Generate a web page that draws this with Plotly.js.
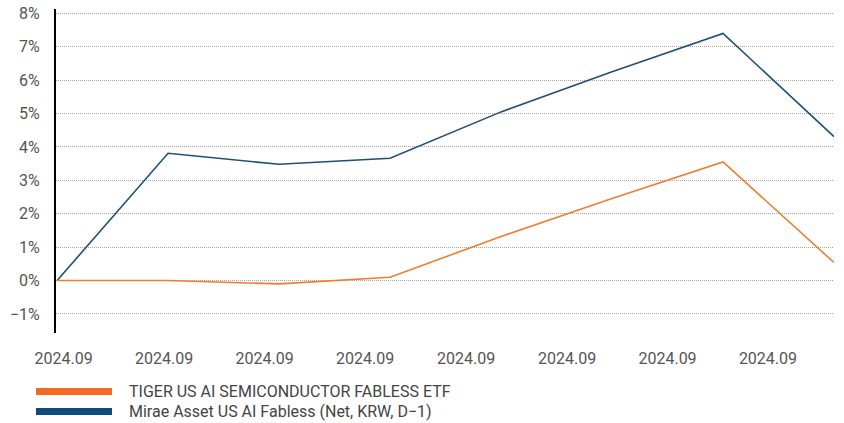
<!DOCTYPE html>
<html>
<head>
<meta charset="utf-8">
<script src="https://cdn.plot.ly/plotly-3.0.1.min.js"></script>
<style>html,body{margin:0;padding:0;background:#fff;}#chart{width:844px;height:423px;}</style>
</head>
<body>
<div id="chart"></div>
<script>
// Data (percent returns)
const pointIndex = [0, 1, 2, 3, 4, 5, 6, 7];
const tigerEtf = [0.0, 0.0, -0.1, 0.1, 1.32, 2.46, 3.55, 0.54];
const miraeIndex = [0.0, 3.81, 3.48, 3.66, 5.05, 6.25, 7.40, 4.31];
const xTickPositions = [0.059, 0.964, 1.869, 2.775, 3.685, 4.595, 5.5, 6.405];
const xTickLabels = ["2024.09", "2024.09", "2024.09", "2024.09", "2024.09", "2024.09", "2024.09", "2024.09"];
const yTickValues = [-1, 0, 1, 2, 3, 4, 5, 6, 7, 8];
const yTickLabels = ["\u22121%", "0%", "1%", "2%", "3%", "4%", "5%", "6%", "7%", "8%"];
const seriesNames = ["TIGER US AI SEMICONDUCTOR FABLESS ETF", "Mirae Asset US AI Fabless (Net, KRW, D\u22121)"];

const orange = "#EE7D31";
const blue = "#1F4E79";
const fontFam = "Roboto, 'Liberation Sans', sans-serif";

const traces = [
  {x: pointIndex, y: miraeIndex, type: "scatter", mode: "lines", name: seriesNames[1],
   line: {color: blue, width: 1.6}, hoverinfo: "skip"},
  {x: pointIndex, y: tigerEtf, type: "scatter", mode: "lines", name: seriesNames[0],
   line: {color: orange, width: 1.6}, hoverinfo: "skip"}
];

const layout = {
  width: 844, height: 423,
  margin: {l: 56, r: 10, t: 9, b: 90},
  paper_bgcolor: "#ffffff", plot_bgcolor: "#ffffff",
  showlegend: false,
  font: {family: fontFam, size: 16, color: "#555555"},
  xaxis: {
    range: [-0.01, 7], showgrid: false, zeroline: false, showline: false,
    tickmode: "array", tickvals: xTickPositions, ticktext: xTickLabels,
    ticks: "outside", ticklen: 11, tickcolor: "rgba(0,0,0,0)",
    tickfont: {family: fontFam, size: 16, color: "#555555"}
  },
  yaxis: {
    range: [-1.57, 8.13], showgrid: true, gridcolor: "#a6a6a6", griddash: "1px,1px", gridwidth: 1,
    zeroline: false, showline: true, linecolor: "#000000", linewidth: 2,
    tickmode: "array", tickvals: yTickValues, ticktext: yTickLabels,
    ticks: "outside", ticklen: 11, tickcolor: "rgba(0,0,0,0)",
    tickfont: {family: fontFam, size: 16, color: "#555555"}
  },
  shapes: [
    {type: "rect", xref: "paper", yref: "paper", x0: -20/778, x1: 56/778, y0: -(395-333)/324, y1: -(388-333)/324,
     fillcolor: "#F26B21", line: {width: 0}},
    {type: "rect", xref: "paper", yref: "paper", x0: -20/778, x1: 56/778, y0: -(415-333)/324, y1: -(408-333)/324,
     fillcolor: "#0E4A7E", line: {width: 0}}
  ],
  annotations: [
    {xref: "paper", yref: "paper", x: 71/778, y: -(391.5-333)/324, xanchor: "left", yanchor: "middle",
     text: seriesNames[0], showarrow: false, font: {family: fontFam, size: 16, color: "#444444"}},
    {xref: "paper", yref: "paper", x: 71/778, y: -(411.5-333)/324, xanchor: "left", yanchor: "middle",
     text: seriesNames[1], showarrow: false, font: {family: fontFam, size: 16, color: "#444444"}}
  ]
};

Plotly.newPlot("chart", traces, layout, {displayModeBar: false, staticPlot: true});
</script>
</body>
</html>
